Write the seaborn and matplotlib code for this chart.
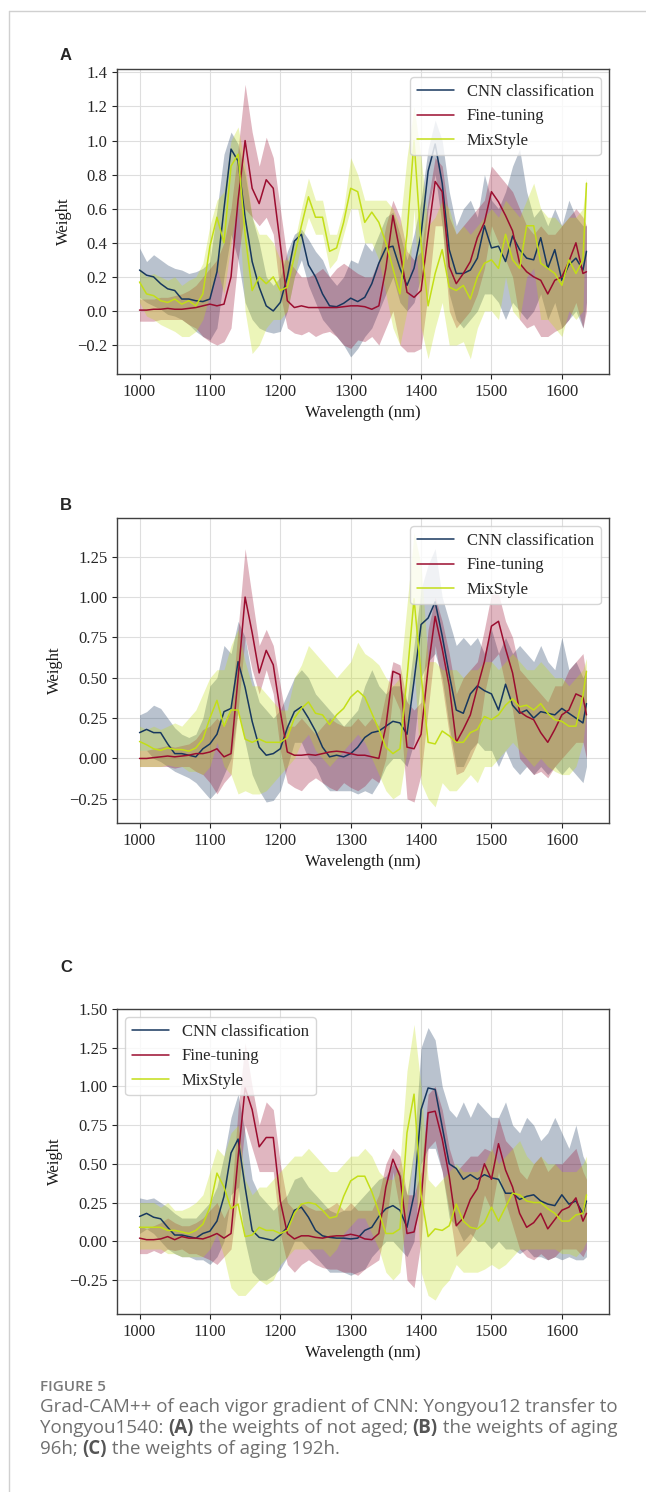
import numpy as np
import pandas as pd
import matplotlib
matplotlib.use("Agg")
import matplotlib.pyplot as plt
import seaborn as sns
from matplotlib.lines import Line2D

# wavelengths (nm) sampled from the figure
wavelength = [1000, 1010, 1020, 1030, 1040, 1050, 1060, 1070, 1080, 1090,
              1100, 1110, 1120, 1130, 1140, 1150, 1160, 1170, 1180, 1190,
              1200, 1210, 1220, 1230, 1240, 1250, 1260, 1270, 1280, 1290,
              1300, 1310, 1320, 1330, 1340, 1350, 1360, 1370, 1380, 1390,
              1400, 1410, 1420, 1430, 1440, 1450, 1460, 1470, 1480, 1490,
              1500, 1510, 1520, 1530, 1540, 1550, 1560, 1570, 1580, 1590,
              1600, 1610, 1620, 1630, 1635]

methods = ["CNN classification", "Fine-tuning", "MixStyle"]
colors = ["#17375e", "#9b0d2f", "#c3de17"]

# ---- (A) not aged ----
cnn_a = [0.24, 0.21, 0.20, 0.16, 0.13, 0.12, 0.07, 0.07, 0.06, 0.055,
         0.07, 0.23, 0.60, 0.95, 0.88, 0.55, 0.29, 0.14, 0.03, 0.00,
         0.05, 0.20, 0.41, 0.45, 0.27, 0.20, 0.10, 0.03, 0.025, 0.045,
         0.075, 0.055, 0.08, 0.16, 0.28, 0.37, 0.38, 0.25, 0.15, 0.25,
         0.45, 0.82, 0.98, 0.75, 0.36, 0.22, 0.22, 0.24, 0.31, 0.50,
         0.37, 0.38, 0.29, 0.44, 0.36, 0.31, 0.30, 0.43, 0.25, 0.36,
         0.18, 0.27, 0.31, 0.24, 0.35]
cnn_a_hi = [0.37, 0.29, 0.33, 0.30, 0.27, 0.25, 0.24, 0.22, 0.23, 0.25,
            0.29, 0.59, 0.92, 1.05, 0.98, 0.80, 0.55, 0.40, 0.20, 0.15,
            0.20, 0.35, 0.45, 0.48, 0.42, 0.35, 0.30, 0.20, 0.15, 0.20,
            0.30, 0.28, 0.40, 0.35, 0.45, 0.55, 0.58, 0.45, 0.30, 0.45,
            0.65, 0.95, 1.12, 1.00, 0.70, 0.50, 0.60, 0.65, 0.55, 0.80,
            0.65, 0.60, 0.70, 0.85, 0.95, 0.70, 0.55, 0.60, 0.50, 0.60,
            0.50, 0.65, 0.55, 0.50, 0.50]
cnn_a_lo = [0.08, 0.05, 0.03, 0.01, -0.02, -0.03, -0.05, -0.08, -0.12, -0.15,
            -0.17, -0.10, 0.20, 0.45, 0.30, 0.05, -0.05, -0.10, -0.12, -0.13,
            -0.12, 0.00, 0.20, 0.30, 0.15, 0.05, -0.05, -0.10, -0.15, -0.20,
            -0.27, -0.22, -0.15, -0.10, 0.00, 0.10, 0.20, 0.05, 0.00, 0.05,
            0.20, 0.60, 0.80, 0.50, 0.10, -0.05, -0.10, -0.05, 0.00, 0.10,
            0.10, 0.05, -0.05, 0.05, 0.00, -0.05, 0.00, 0.10, -0.05, 0.05,
            -0.10, -0.05, 0.00, -0.10, 0.05]
ft_a = [0.005, 0.005, 0.01, 0.01, 0.015, 0.01, 0.01, 0.015, 0.02, 0.03,
        0.04, 0.03, 0.04, 0.20, 0.65, 1.00, 0.72, 0.63, 0.77, 0.72,
        0.39, 0.06, 0.02, 0.03, 0.02, 0.02, 0.02, 0.02, 0.02, 0.025,
        0.03, 0.03, 0.025, 0.01, 0.03, 0.25, 0.56, 0.35, 0.11, 0.08,
        0.12, 0.45, 0.76, 0.70, 0.26, 0.16, 0.22, 0.29, 0.43, 0.52,
        0.70, 0.64, 0.56, 0.47, 0.28, 0.23, 0.20, 0.18, 0.10, 0.18,
        0.20, 0.29, 0.40, 0.22, 0.23]
ft_a_hi = [0.07, 0.07, 0.07, 0.08, 0.08, 0.09, 0.10, 0.12, 0.15, 0.20,
           0.25, 0.30, 0.40, 0.60, 0.95, 1.33, 1.05, 0.85, 1.02, 0.90,
           0.60, 0.30, 0.25, 0.20, 0.20, 0.22, 0.25, 0.20, 0.25, 0.28,
           0.25, 0.22, 0.20, 0.20, 0.30, 0.50, 0.65, 0.55, 0.35, 0.30,
           0.35, 0.65, 0.90, 0.85, 0.55, 0.45, 0.50, 0.55, 0.60, 0.65,
           0.85, 0.80, 0.75, 0.70, 0.60, 0.50, 0.45, 0.50, 0.45, 0.45,
           0.50, 0.55, 0.60, 0.55, 0.50]
ft_a_lo = [-0.06, -0.06, -0.06, -0.05, -0.05, -0.05, -0.05, -0.08, -0.10, -0.15,
           -0.18, -0.20, -0.18, -0.10, 0.30, 0.60, 0.55, 0.50, 0.55, 0.45,
           0.10, -0.10, -0.13, -0.14, -0.12, -0.15, -0.13, -0.12, -0.15, -0.20,
           -0.22, -0.17, -0.18, -0.15, -0.20, -0.10, 0.00, -0.20, -0.24, -0.24,
           -0.22, 0.10, 0.50, 0.50, 0.00, -0.10, -0.05, 0.00, 0.10, 0.25,
           0.50, 0.40, 0.30, 0.20, -0.05, -0.10, -0.08, -0.15, -0.15, -0.12,
           -0.10, -0.05, 0.05, -0.10, 0.00]
mix_a = [0.17, 0.10, 0.09, 0.06, 0.05, 0.07, 0.04, 0.06, 0.03, 0.10,
         0.38, 0.55, 0.40, 0.85, 0.92, 0.45, 0.12, 0.20, 0.16, 0.20,
         0.12, 0.14, 0.32, 0.50, 0.67, 0.55, 0.55, 0.35, 0.37, 0.52,
         0.72, 0.70, 0.52, 0.58, 0.52, 0.40, 0.25, 0.10, 0.45, 1.00,
         0.40, 0.03, 0.22, 0.36, 0.14, 0.12, 0.15, 0.07, 0.20, 0.28,
         0.30, 0.25, 0.45, 0.30, 0.25, 0.50, 0.50, 0.28, 0.25, 0.22,
         0.15, 0.30, 0.22, 0.30, 0.75]
mix_a_hi = [0.25, 0.20, 0.22, 0.20, 0.18, 0.20, 0.15, 0.18, 0.20, 0.28,
            0.50, 0.65, 0.70, 1.00, 1.08, 0.85, 0.55, 0.45, 0.45, 0.40,
            0.30, 0.30, 0.40, 0.60, 0.78, 0.65, 0.65, 0.45, 0.45, 0.60,
            0.90, 0.80, 0.65, 0.65, 0.65, 0.65, 0.60, 0.50, 0.90, 1.20,
            0.90, 0.50, 0.55, 0.65, 0.60, 0.45, 0.50, 0.45, 0.50, 0.55,
            0.60, 0.55, 0.65, 0.60, 0.55, 0.65, 0.75, 0.60, 0.55, 0.55,
            0.50, 0.55, 0.55, 0.60, 0.78]
mix_a_lo = [0.05, -0.03, -0.05, -0.08, -0.10, -0.12, -0.15, -0.15, -0.12, -0.05,
            0.10, 0.25, 0.10, 0.40, 0.65, 0.00, -0.25, -0.20, -0.10, -0.05,
            -0.05, 0.00, 0.20, 0.40, 0.55, 0.45, 0.45, 0.25, 0.30, 0.45,
            0.60, 0.60, 0.40, 0.40, 0.30, 0.10, -0.10, -0.20, 0.00, 0.60,
            -0.10, -0.28, -0.10, 0.05, -0.20, -0.20, -0.18, -0.28, -0.10, 0.00,
            0.00, -0.05, 0.20, 0.00, -0.05, 0.20, 0.25, -0.05, -0.05, -0.10,
            -0.15, 0.00, -0.05, 0.00, 0.70]

# ---- (B) aging 96h ----
cnn_b = [0.16, 0.18, 0.16, 0.16, 0.09, 0.03, 0.03, 0.02, 0.01, 0.06,
         0.09, 0.15, 0.29, 0.31, 0.60, 0.44, 0.23, 0.07, 0.02, 0.03,
         0.06, 0.19, 0.29, 0.32, 0.25, 0.17, 0.07, 0.01, 0.02, 0.01,
         0.03, 0.07, 0.13, 0.16, 0.17, 0.20, 0.23, 0.22, 0.15, 0.48,
         0.83, 0.87, 0.97, 0.76, 0.52, 0.30, 0.28, 0.40, 0.45, 0.42,
         0.40, 0.30, 0.46, 0.33, 0.28, 0.30, 0.25, 0.29, 0.28, 0.27,
         0.31, 0.28, 0.25, 0.22, 0.34]
cnn_b_hi = [0.27, 0.29, 0.33, 0.31, 0.25, 0.19, 0.15, 0.13, 0.15, 0.25,
            0.45, 0.50, 0.70, 0.65, 0.85, 0.75, 0.50, 0.35, 0.30, 0.25,
            0.30, 0.40, 0.50, 0.55, 0.50, 0.40, 0.35, 0.30, 0.25, 0.20,
            0.25, 0.30, 0.45, 0.55, 0.45, 0.40, 0.45, 0.45, 0.35, 0.70,
            1.05, 1.20, 1.30, 1.00, 0.85, 0.70, 0.75, 0.70, 0.75, 0.65,
            0.80, 0.65, 0.75, 0.65, 0.70, 0.65, 0.60, 0.70, 0.60, 0.55,
            0.75, 0.55, 0.60, 0.50, 0.55]
cnn_b_lo = [0.05, 0.05, 0.00, -0.02, -0.05, -0.08, -0.10, -0.12, -0.15, -0.20,
            -0.25, -0.20, -0.10, 0.00, 0.30, 0.10, -0.10, -0.20, -0.27, -0.26,
            -0.20, -0.05, 0.10, 0.10, 0.00, -0.05, -0.15, -0.20, -0.20, -0.20,
            -0.20, -0.22, -0.20, -0.22, -0.15, -0.05, 0.00, 0.00, -0.05, 0.10,
            0.50, 0.60, 0.65, 0.50, 0.20, -0.05, -0.05, 0.05, 0.10, 0.05,
            0.05, -0.05, 0.05, -0.05, -0.10, -0.05, -0.10, -0.05, -0.10, -0.05,
            -0.10, -0.05, -0.10, -0.15, -0.05]
ft_b = [0.0, 0.0, 0.005, 0.01, 0.015, 0.01, 0.015, 0.02, 0.03, 0.03,
        0.04, 0.06, 0.01, 0.03, 0.50, 1.00, 0.78, 0.53, 0.67, 0.58,
        0.29, 0.04, 0.02, 0.02, 0.025, 0.02, 0.03, 0.04, 0.045, 0.04,
        0.03, 0.02, 0.02, 0.01, 0.00, 0.20, 0.54, 0.52, 0.07, 0.06,
        0.15, 0.56, 0.88, 0.68, 0.45, 0.10, 0.18, 0.27, 0.44, 0.60,
        0.82, 0.85, 0.68, 0.53, 0.29, 0.26, 0.24, 0.16, 0.10, 0.18,
        0.27, 0.30, 0.40, 0.38, 0.27]
ft_b_hi = [0.05, 0.05, 0.06, 0.07, 0.08, 0.07, 0.08, 0.09, 0.12, 0.18,
           0.20, 0.25, 0.20, 0.30, 0.80, 1.30, 1.00, 0.70, 0.80, 0.70,
           0.45, 0.20, 0.20, 0.25, 0.20, 0.15, 0.20, 0.25, 0.22, 0.20,
           0.20, 0.25, 0.20, 0.25, 0.20, 0.40, 0.60, 0.58, 0.35, 0.30,
           0.35, 0.80, 1.00, 0.85, 0.65, 0.40, 0.50, 0.55, 0.60, 0.80,
           1.02, 1.02, 0.85, 0.75, 0.55, 0.50, 0.45, 0.40, 0.35, 0.45,
           0.45, 0.55, 0.60, 0.65, 0.50]
ft_b_lo = [-0.05, -0.05, -0.05, -0.05, -0.05, -0.06, -0.05, -0.05, -0.08, -0.10,
           -0.15, -0.22, -0.15, -0.10, 0.30, 0.75, 0.55, 0.40, 0.55, 0.40,
           0.05, -0.15, -0.18, -0.20, -0.15, -0.12, -0.15, -0.18, -0.20, -0.15,
           -0.18, -0.20, -0.17, -0.12, -0.15, 0.00, 0.40, 0.30, -0.25, -0.27,
           -0.10, 0.30, 0.70, 0.45, 0.15, -0.10, -0.08, 0.00, 0.10, 0.40,
           0.60, 0.65, 0.45, 0.30, 0.00, -0.05, -0.10, -0.08, -0.12, -0.05,
           0.00, 0.05, 0.10, 0.10, 0.00]
mix_b = [0.105, 0.085, 0.06, 0.05, 0.065, 0.055, 0.055, 0.045, 0.065, 0.12,
         0.25, 0.36, 0.20, 0.30, 0.30, 0.12, 0.10, 0.12, 0.10, 0.10,
         0.10, 0.13, 0.25, 0.31, 0.35, 0.28, 0.27, 0.21, 0.27, 0.31,
         0.38, 0.42, 0.38, 0.28, 0.18, 0.07, 0.03, 0.06, 0.50, 0.99,
         0.52, 0.10, 0.09, 0.17, 0.14, 0.10, 0.10, 0.16, 0.18, 0.26,
         0.24, 0.27, 0.33, 0.37, 0.32, 0.33, 0.30, 0.34, 0.28, 0.24,
         0.23, 0.20, 0.20, 0.39, 0.54]
mix_b_hi = [0.20, 0.18, 0.20, 0.18, 0.20, 0.22, 0.20, 0.25, 0.30, 0.40,
            0.50, 0.55, 0.55, 0.70, 0.80, 0.60, 0.45, 0.45, 0.40, 0.35,
            0.30, 0.30, 0.50, 0.58, 0.70, 0.65, 0.60, 0.55, 0.50, 0.55,
            0.60, 0.72, 0.65, 0.62, 0.58, 0.50, 0.45, 0.50, 0.95, 1.40,
            1.20, 0.60, 0.60, 0.55, 0.55, 0.55, 0.50, 0.55, 0.55, 0.60,
            0.60, 0.55, 0.60, 0.65, 0.60, 0.55, 0.55, 0.60, 0.55, 0.50,
            0.50, 0.45, 0.50, 0.55, 0.62]
mix_b_lo = [-0.05, -0.05, -0.05, -0.05, -0.04, -0.05, -0.05, -0.08, -0.08, -0.10,
            -0.05, 0.10, -0.05, -0.10, -0.22, -0.20, -0.22, -0.22, -0.20, -0.15,
            -0.10, -0.05, 0.00, 0.10, 0.15, 0.05, 0.00, -0.05, 0.00, 0.05,
            0.10, 0.15, 0.10, 0.00, -0.10, -0.20, -0.25, -0.22, 0.05, 0.60,
            -0.15, -0.25, -0.30, -0.15, -0.20, -0.20, -0.15, -0.10, -0.15, -0.05,
            -0.05, 0.00, 0.05, 0.10, 0.05, 0.00, -0.05, 0.00, -0.05, -0.08,
            -0.10, -0.10, -0.05, 0.10, 0.30]

# ---- (C) aging 192h ----
cnn_c = [0.16, 0.18, 0.155, 0.145, 0.09, 0.04, 0.04, 0.03, 0.02, 0.05,
         0.065, 0.13, 0.29, 0.57, 0.66, 0.35, 0.07, 0.025, 0.015, 0.005,
         0.04, 0.09, 0.20, 0.22, 0.155, 0.07, 0.035, 0.025, 0.02, 0.02,
         0.015, 0.02, 0.07, 0.09, 0.16, 0.21, 0.23, 0.20, 0.09, 0.30,
         0.85, 0.99, 0.98, 0.74, 0.50, 0.47, 0.40, 0.43, 0.40, 0.43,
         0.41, 0.40, 0.31, 0.31, 0.27, 0.29, 0.30, 0.26, 0.24, 0.23,
         0.30, 0.24, 0.26, 0.18, 0.26]
cnn_c_hi = [0.28, 0.27, 0.28, 0.25, 0.22, 0.18, 0.15, 0.15, 0.15, 0.20,
            0.25, 0.35, 0.55, 0.80, 0.95, 0.70, 0.40, 0.30, 0.25, 0.20,
            0.25, 0.30, 0.40, 0.42, 0.35, 0.30, 0.25, 0.20, 0.18, 0.20,
            0.20, 0.25, 0.30, 0.35, 0.40, 0.42, 0.50, 0.45, 0.30, 0.60,
            1.25, 1.38, 1.30, 1.00, 0.85, 0.80, 0.90, 0.80, 0.90, 0.85,
            0.80, 0.80, 0.90, 0.75, 0.70, 0.80, 0.75, 0.65, 0.70, 0.80,
            0.70, 0.60, 0.75, 0.55, 0.50]
cnn_c_lo = [0.05, 0.08, 0.05, 0.00, -0.05, -0.08, -0.10, -0.10, -0.12, -0.12,
            -0.15, -0.10, 0.00, 0.30, 0.35, 0.00, -0.20, -0.25, -0.25, -0.22,
            -0.18, -0.10, 0.00, 0.00, -0.05, -0.10, -0.15, -0.20, -0.20, -0.20,
            -0.22, -0.20, -0.18, -0.10, -0.05, 0.00, 0.00, -0.05, -0.10, 0.00,
            0.50, 0.60, 0.60, 0.45, 0.15, 0.10, 0.00, 0.05, 0.00, 0.00,
            -0.05, 0.00, -0.05, -0.05, -0.08, -0.05, -0.10, -0.10, -0.12, -0.10,
            -0.12, -0.10, -0.12, -0.12, -0.10]
ft_c = [0.02, 0.01, 0.01, 0.015, 0.03, 0.01, 0.03, 0.02, 0.02, 0.015,
        0.03, 0.05, 0.02, 0.05, 0.54, 0.99, 0.85, 0.61, 0.67, 0.67,
        0.26, 0.05, 0.015, 0.035, 0.035, 0.025, 0.02, 0.03, 0.035, 0.035,
        0.045, 0.035, 0.015, 0.01, 0.05, 0.35, 0.53, 0.42, 0.05, 0.06,
        0.26, 0.83, 0.84, 0.66, 0.42, 0.10, 0.15, 0.27, 0.34, 0.50,
        0.40, 0.63, 0.46, 0.35, 0.18, 0.09, 0.12, 0.18, 0.08, 0.14,
        0.20, 0.22, 0.28, 0.13, 0.18]
ft_c_hi = [0.10, 0.08, 0.10, 0.12, 0.15, 0.12, 0.10, 0.10, 0.12, 0.15,
           0.20, 0.25, 0.15, 0.25, 0.85, 1.28, 1.00, 0.75, 0.90, 0.85,
           0.50, 0.25, 0.20, 0.25, 0.22, 0.20, 0.20, 0.22, 0.25, 0.20,
           0.25, 0.20, 0.20, 0.20, 0.30, 0.50, 0.60, 0.55, 0.30, 0.30,
           0.45, 0.95, 1.00, 0.85, 0.60, 0.45, 0.50, 0.55, 0.55, 0.60,
           0.58, 0.80, 0.65, 0.60, 0.45, 0.40, 0.50, 0.55, 0.45, 0.50,
           0.50, 0.55, 0.60, 0.45, 0.40]
ft_c_lo = [-0.08, -0.08, -0.06, -0.08, -0.05, -0.06, -0.05, -0.08, -0.08, -0.10,
           -0.12, -0.15, -0.10, -0.05, 0.30, 0.75, 0.60, 0.45, 0.45, 0.45,
           0.05, -0.15, -0.20, -0.15, -0.12, -0.15, -0.17, -0.18, -0.18, -0.20,
           -0.20, -0.22, -0.18, -0.15, -0.12, 0.10, 0.45, 0.20, -0.25, -0.30,
           0.00, 0.60, 0.65, 0.45, 0.20, -0.10, -0.05, 0.00, 0.10, 0.30,
           0.20, 0.45, 0.25, 0.10, -0.05, -0.10, -0.12, -0.08, -0.12, -0.10,
           -0.05, -0.05, -0.05, -0.10, -0.05]
mix_c = [0.09, 0.09, 0.09, 0.09, 0.07, 0.07, 0.06, 0.05, 0.07, 0.11,
         0.22, 0.44, 0.35, 0.21, 0.24, 0.03, 0.04, 0.09, 0.07, 0.07,
         0.05, 0.07, 0.18, 0.24, 0.25, 0.24, 0.20, 0.15, 0.16, 0.29,
         0.39, 0.42, 0.42, 0.32, 0.19, 0.05, 0.05, 0.08, 0.70, 0.95,
         0.30, 0.03, 0.08, 0.07, 0.10, 0.24, 0.13, 0.09, 0.08, 0.12,
         0.22, 0.13, 0.22, 0.31, 0.30, 0.26, 0.25, 0.25, 0.21, 0.18,
         0.13, 0.13, 0.17, 0.18, 0.30]
mix_c_hi = [0.25, 0.25, 0.25, 0.22, 0.25, 0.20, 0.20, 0.22, 0.25, 0.30,
            0.45, 0.60, 0.55, 0.70, 0.75, 0.40, 0.30, 0.35, 0.35, 0.40,
            0.45, 0.50, 0.55, 0.55, 0.60, 0.55, 0.50, 0.45, 0.45, 0.50,
            0.55, 0.55, 0.60, 0.55, 0.45, 0.40, 0.40, 0.50, 1.10, 1.40,
            1.00, 0.40, 0.35, 0.40, 0.45, 0.50, 0.45, 0.45, 0.45, 0.50,
            0.60, 0.50, 0.55, 0.60, 0.65, 0.55, 0.50, 0.55, 0.50, 0.50,
            0.45, 0.45, 0.45, 0.50, 0.55]
mix_c_lo = [-0.05, -0.05, -0.05, -0.05, -0.08, -0.08, -0.10, -0.10, -0.10, -0.10,
            -0.05, 0.05, -0.10, -0.30, -0.35, -0.35, -0.30, -0.25, -0.28, -0.25,
            -0.15, -0.10, -0.05, -0.05, -0.05, -0.05, -0.05, -0.10, -0.05, 0.05,
            0.10, 0.15, 0.15, 0.05, -0.05, -0.20, -0.25, -0.20, 0.20, 0.60,
            -0.20, -0.35, -0.38, -0.30, -0.25, -0.15, -0.20, -0.20, -0.20, -0.18,
            -0.15, -0.18, -0.15, -0.10, -0.05, -0.05, -0.05, -0.05, -0.05, -0.05,
            -0.08, -0.08, -0.10, -0.05, 0.00]


def long_table(series):
    # three rows per wavelength (low, line, high) -> median + full range band
    rows = []
    for method, (line, lo, hi) in zip(methods, series):
        for w, a, b, c in zip(wavelength, lo, line, hi):
            for v in (a, b, c):
                rows.append((method, w, v))
    return pd.DataFrame(rows, columns=["method", "wavelength", "weight"])


panels = [
    ("A", [(cnn_a, cnn_a_lo, cnn_a_hi), (ft_a, ft_a_lo, ft_a_hi), (mix_a, mix_a_lo, mix_a_hi)],
     (-0.37, 1.42), [-0.2, 0.0, 0.2, 0.4, 0.6, 0.8, 1.0, 1.2, 1.4], "{:.1f}", "upper right", 69, 55),
    ("B", [(cnn_b, cnn_b_lo, cnn_b_hi), (ft_b, ft_b_lo, ft_b_hi), (mix_b, mix_b_lo, mix_b_hi)],
     (-0.40, 1.49), [-0.25, 0.0, 0.25, 0.5, 0.75, 1.0, 1.25], "{:.2f}", "upper right", 518, 505),
    ("C", [(cnn_c, cnn_c_lo, cnn_c_hi), (ft_c, ft_c_lo, ft_c_hi), (mix_c, mix_c_lo, mix_c_hi)],
     (-0.47, 1.50), [-0.25, 0.0, 0.25, 0.5, 0.75, 1.0, 1.25, 1.5], "{:.2f}", "upper left", 1009, 968),
]

sns.set_style("whitegrid", {"axes.edgecolor": "0.25", "grid.color": "0.87",
                            "xtick.bottom": True, "ytick.left": True})
plt.rcParams["font.family"] = ["Liberation Serif", "DejaVu Serif"]
plt.rcParams["xtick.major.size"] = 3.5
plt.rcParams["ytick.major.size"] = 3.5
plt.rcParams["xtick.color"] = "0.15"
plt.rcParams["ytick.color"] = "0.15"
plt.rcParams["axes.labelcolor"] = "0.1"

W, H = 646, 1492
fig = plt.figure(figsize=(W / 100, H / 100), dpi=100)

for label, series, ylim, yticks, fmt, loc, top_px, lab_y in panels:
    ax = fig.add_axes([117 / W, 1 - (top_px + 305) / H, 492 / W, 305 / H])
    df = long_table(series)
    sns.lineplot(data=df, x="wavelength", y="weight", hue="method", hue_order=methods,
                 palette=colors, estimator="median", errorbar=("pi", 100),
                 linewidth=1.1, err_kws={"alpha": 0.3, "linewidth": 0}, ax=ax)
    ax.set_xlim(968, 1667)
    ax.set_ylim(*ylim)
    ax.set_xticks([1000, 1100, 1200, 1300, 1400, 1500, 1600])
    ax.set_yticks(yticks)
    ax.set_yticklabels([fmt.format(v).replace("-", "\u2212") for v in yticks])
    ax.tick_params(labelsize=12)
    ax.set_xlabel("Wavelength (nm)", fontsize=12)
    ax.set_ylabel("Weight", fontsize=12)
    for s in ax.spines.values():
        s.set_linewidth(1.0)
    sns.move_legend(ax, loc, title=None, frameon=True, fontsize=12,
                    handlelength=2.2, borderaxespad=0.5)
    fig.text(60 / W, 1 - lab_y / H, label, fontsize=12, fontweight="bold",
             family=["Liberation Sans", "DejaVu Sans"], va="center", ha="left")

# page frame
fig.add_artist(Line2D([9 / W, 1], [1 - 11 / H, 1 - 11 / H], color="#d0d0d0", lw=1,
                      transform=fig.transFigure))
fig.add_artist(Line2D([9 / W, 9 / W], [0, 1 - 11 / H], color="#d0d0d0", lw=1,
                      transform=fig.transFigure))

# caption
cap_font = ["Open Sans", "DejaVu Sans"]
fig.text(40 / W, 1 - 1387 / H, "FIGURE 5", fontsize=11, color="#7a7a7a",
         family=cap_font, fontweight="semibold", va="center")

renderer = fig.canvas.get_renderer()


def rich_line(y_px, parts):
    x = 40 / W
    for s, bold in parts:
        t = fig.text(x, 1 - y_px / H, s, fontsize=13.5, family=cap_font,
                     color="#555555" if bold else "#707070",
                     fontweight="bold" if bold else "normal", va="center")
        x += t.get_window_extent(renderer).width / W


rich_line(1407, [("Grad-CAM++ of each vigor gradient of CNN: Yongyou12 transfer to", False)])
rich_line(1428, [("Yongyou1540: ", False), ("(A)", True), (" the weights of not aged; ", False),
                 ("(B)", True), (" the weights of aging", False)])
rich_line(1449, [("96h; ", False), ("(C)", True), (" the weights of aging 192h.", False)])

fig.savefig("out.png", dpi=100)
